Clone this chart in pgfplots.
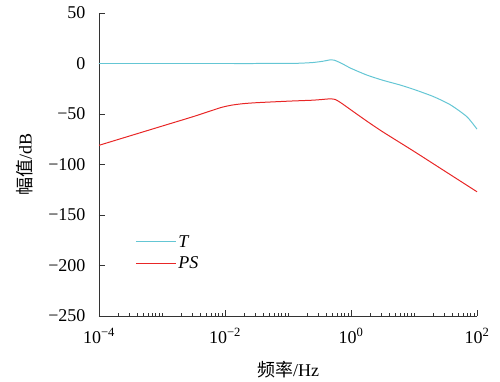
\documentclass[border=0pt]{standalone}
\usepackage{fontspec}
\setmainfont{Liberation Serif}
\newfontfamily\cjk{Noto Sans CJK SC}
\usepackage{pgfplots}
\pgfplotsset{compat=1.18}
\usepackage{pgfplotstable}

\definecolor{tcyan}{RGB}{100,198,212}
\definecolor{psred}{RGB}{232,38,38}

% Frequency response magnitudes (frequency in Hz, magnitude in dB)
\pgfplotstableread{
f        mag
1e-4     0
1e-3     0
1e-2     0
3e-2     0
0.1      0.1
0.158    0.3
0.251    1.0
0.355    2.2
0.468    3.6
0.537    3.4
0.631    1.6
0.794    -1.5
1.0      -4.8
1.778    -11.4
3.162    -16.5
6.026    -21.3
10       -25.7
20.42    -32.8
38.02    -41.0
69.18    -52.7
100      -65.0
}\Tdata

\pgfplotstableread{
f        mag
1e-4     -81.0
3.162e-4 -71.5
1e-3     -62.0
3.162e-3 -52.5
7.943e-3 -44.3
1e-2     -42.6
1.259e-2 -41.3
1.585e-2 -40.4
1.995e-2 -39.7
3.162e-2 -38.8
0.1      -37.3
0.251    -36.3
0.398    -35.3
0.468    -35.0
0.562    -35.6
0.676    -38.5
0.794    -41.5
1.0      -46.0
1.778    -57.0
3.162    -67.5
10       -87.0
31.62    -107.0
100      -127.0
}\PSdata

\begin{document}
\begin{tikzpicture}[font=\fontsize{18bp}{21bp}\selectfont]
\useasboundingbox (-99bp,-66bp) rectangle (401bp,316bp);
\begin{axis}[
  at={(0,0)}, anchor=south west,
  scale only axis,
  width=378bp, height=303bp,
  xmode=log,
  xmin=1e-4, xmax=1e2,
  ymin=-250, ymax=50,
  axis x line=bottom, axis y line=left,
  axis line style={-, black!80, line width=0.8pt},
  tick align=inside,
  tick style={black!80, line width=0.8pt},
  major tick length=6bp, minor tick length=3bp,
  xtick={1e-4,1e-2,1,1e2},
  xticklabels={10\textsuperscript{−4},10\textsuperscript{−2},10\textsuperscript{0},10\textsuperscript{2}},
  minor xtick={2e-4,3e-4,4e-4,5e-4,6e-4,7e-4,8e-4,9e-4,
               1e-3,2e-3,3e-3,4e-3,5e-3,6e-3,7e-3,8e-3,9e-3,
               2e-2,3e-2,4e-2,5e-2,6e-2,7e-2,8e-2,9e-2,
               0.1,0.2,0.3,0.4,0.5,0.6,0.7,0.8,0.9,
               2,3,4,5,6,7,8,9,
               10,20,30,40,50,60,70,80,90},
  ytick={-250,-200,-150,-100,-50,0,50},
  yticklabels={−250,−200,−150,−100,−50,0,50},
  xticklabel style={yshift=-9bp},
  yticklabel style={xshift=-10bp},
  xlabel={{\cjk 频率}/Hz},
  ylabel={{\cjk 幅值}/dB},
  xlabel style={at={(rel axis cs:0.5,-0.178)}, anchor=center},
  ylabel style={at={(rel axis cs:-0.196,0.5)}, anchor=center},
  legend style={at={(0.088,0.28)}, anchor=north west, draw=none, fill=none,
    row sep=4bp, font=\fontsize{18bp}{21bp}\selectfont\itshape},
  legend cell align=left,
  legend image code/.code={\draw[#1] (0bp,0bp) -- (40bp,0bp);},
  clip=false,
]
\addplot[tcyan, line width=1pt, smooth, tension=0.4] table[x=f, y=mag] {\Tdata};
\addlegendentry{T}
\addplot[psred, line width=1pt, smooth, tension=0.4] table[x=f, y=mag] {\PSdata};
\addlegendentry{PS}
\end{axis}
\end{tikzpicture}
\end{document}
